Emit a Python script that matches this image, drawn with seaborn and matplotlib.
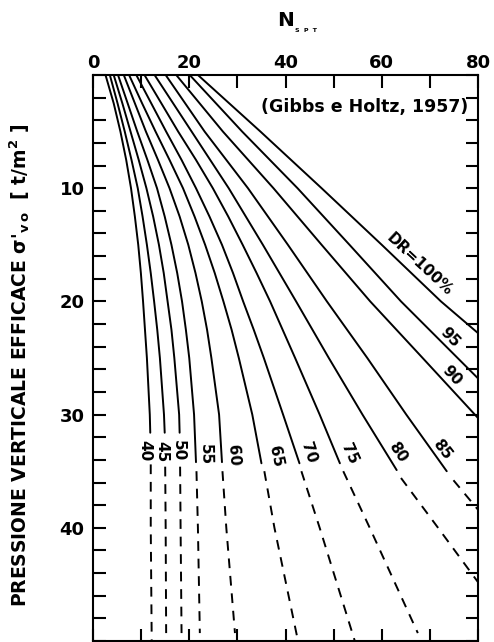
import numpy as np
import pandas as pd
import matplotlib
matplotlib.use("Agg")
import matplotlib.pyplot as plt
import seaborn as sns
from matplotlib.ticker import MultipleLocator

# ---------------- data ----------------
dr_levels = [40, 45, 50, 55, 60, 65, 70, 75, 80, 85, 90, 95, 100]

sig_40 = [0, 2.5, 5, 7.5, 10, 12.5, 15, 17.5, 20, 22.5, 25, 30, 31.6, 34.4, 40, 50]
n_40 = [2.6, 4.3, 5.7, 6.9, 7.9, 8.7, 9.4, 9.95, 10.4, 10.8, 11.2, 11.8, 11.9, 12.0, 12.0, 12.2]
sig_45 = [0, 2.5, 5, 7.5, 10, 12.5, 15, 17.5, 20, 22.5, 25, 30, 31.6, 34.6, 40, 49.3]
n_45 = [3.5, 5.1, 6.6, 8.0, 9.3, 10.3, 11.2, 12.0, 12.7, 13.35, 13.9, 14.75, 14.9, 15.0, 15.1, 15.2]
sig_50 = [0, 2.5, 5, 7.5, 10, 12.5, 15, 17.5, 20, 22.5, 25, 30, 31.6, 34.6, 40, 49.3]
n_50 = [4.3, 6.1, 7.8, 9.5, 11.1, 12.5, 13.7, 14.7, 15.5, 16.3, 16.9, 17.9, 18.0, 18.1, 18.2, 18.4]
sig_55 = [0, 2.5, 5, 7.5, 10, 12.5, 15, 17.5, 20, 22.5, 25, 30, 34.2, 35, 40, 49.3]
n_55 = [5.2, 7.2, 9.2, 11.3, 13.3, 14.9, 16.3, 17.5, 18.5, 19.3, 20.0, 21.0, 21.4, 21.5, 21.8, 22.2]
sig_60 = [0, 2.5, 5, 7.5, 10, 12.5, 15, 17.5, 20, 22.5, 25, 30, 34.2, 35, 40, 49.3]
n_60 = [6.4, 8.7, 11.0, 13.5, 15.9, 18.0, 19.8, 21.3, 22.6, 23.7, 24.6, 26.2, 26.8, 26.9, 27.7, 29.5]
sig_65 = [0, 2.5, 5, 7.5, 10, 12.5, 15, 17.5, 20, 22.5, 25, 30, 34.3, 35, 40, 50]
n_65 = [7.5, 10.2, 13.0, 15.9, 18.7, 21.1, 23.3, 25.3, 27.1, 28.8, 30.3, 33.1, 35.0, 35.6, 37.7, 42.6]
sig_70 = [0, 2.5, 5, 7.5, 10, 12.5, 15, 17.5, 20, 22.5, 25, 30, 34.3, 35, 40, 50]
n_70 = [9.0, 12.1, 15.2, 18.4, 21.4, 24.2, 26.8, 29.1, 31.2, 33.4, 35.5, 39.5, 42.9, 43.3, 47.1, 54.4]
sig_75 = [0, 2.5, 5, 7.5, 10, 12.5, 15, 17.5, 20, 22.5, 25, 30, 34.3, 35, 40, 49.3]
n_75 = [10.7, 14.2, 17.7, 21.4, 24.9, 28.1, 31.1, 34.0, 36.8, 39.4, 42.0, 47.1, 51.3, 52.0, 57.5, 67.5]
sig_80 = [0, 5, 10, 15, 20, 25, 30, 34.9, 35.6, 40, 44.8]
n_80 = [12.8, 20.5, 28.2, 35.3, 42.2, 49.0, 56.0, 63.1, 64.0, 71.7, 80.0]
sig_85 = [0, 5, 10, 15, 20, 25, 30, 35.0, 35.8, 38.4]
n_85 = [15.1, 23.2, 32.2, 40.5, 48.6, 57.0, 65.1, 73.5, 74.9, 80.0]
sig_90 = [0, 5, 10, 15, 20, 25, 30.3]
n_90 = [17.3, 27.0, 37.5, 47.5, 57.6, 68.5, 80.0]
sig_95 = [0, 5, 10, 15, 20, 26.8]
n_95 = [20.1, 31.0, 42.5, 53.3, 64.0, 80.0]
sig_100 = [0, 5, 10, 15, 20, 22.8]
n_100 = [21.8, 34.8, 47.5, 60.0, 72.3, 80.0]

# depth where the solid (measured) part ends and the dashed (extrapolated) part starts
solid_end = [31.6, 31.6, 31.6, 34.2, 34.2, 34.3, 34.3, 34.3, 34.9, 35.0, 30.3, 26.8, 22.8]
dash_start = [34.4, 34.6, 34.6, 35, 35, 35, 35, 35, 35.6, 35.8, 99, 99, 99]

curve_labels = ["40", "45", "50", "55", "60", "65", "70", "75", "80", "85", "90", "95", "DR=100%"]

x_ticks = [0, 20, 40, 60, 80]
y_ticks = [10, 20, 30, 40]

# ---------------- build long tables ----------------
sigmas = [sig_40, sig_45, sig_50, sig_55, sig_60, sig_65, sig_70, sig_75,
          sig_80, sig_85, sig_90, sig_95, sig_100]
ns = [n_40, n_45, n_50, n_55, n_60, n_65, n_70, n_75,
      n_80, n_85, n_90, n_95, n_100]

solid_rows, dash_rows = [], []
for dr, s_list, n_list, se, ds in zip(dr_levels, sigmas, ns, solid_end, dash_start):
    for s, n in zip(s_list, n_list):
        if s <= se:
            solid_rows.append((dr, s, n))
        if s >= ds:
            dash_rows.append((dr, s, n))
solid_df = pd.DataFrame(solid_rows, columns=["DR", "sigma", "N"])
dash_df = pd.DataFrame(dash_rows, columns=["DR", "sigma", "N"])

# ---------------- style ----------------
sns.set_style("ticks")
plt.rcParams["font.family"] = ["DejaVu Sans"]
plt.rcParams["font.weight"] = "bold"
plt.rcParams["mathtext.default"] = "regular"
for key in ["text.color", "axes.labelcolor", "xtick.color", "ytick.color",
            "axes.edgecolor", "xtick.labelcolor", "ytick.labelcolor"]:
    plt.rcParams[key] = "black"

fig = plt.figure(figsize=(4.94, 6.42), dpi=100)
ax = fig.add_axes([93 / 494, 1 / 642, 385 / 494, 566 / 642])

sns.lineplot(data=solid_df, x="N", y="sigma", units="DR", estimator=None,
             sort=False, color="black", linewidth=1.4, ax=ax)
sns.lineplot(data=dash_df, x="N", y="sigma", units="DR", estimator=None,
             sort=False, color="black", linewidth=1.4,
             linestyle=(0, (5, 4)), ax=ax)

ax.set_xlim(0, 80)
ax.set_ylim(50, 0)

ax.xaxis.tick_top()
ax.set_xticks(x_ticks)
ax.xaxis.set_minor_locator(MultipleLocator(10))
ax.set_yticks(y_ticks)
ax.yaxis.set_minor_locator(MultipleLocator(2))
ax.tick_params(axis="both", which="both", direction="in", length=9, width=1.5,
               top=True, bottom=True, left=True, right=True,
               labeltop=True, labelbottom=False, labelleft=True, labelright=False,
               color="black", labelcolor="black")
ax.tick_params(axis="x", which="major", pad=2, labelsize=13)
ax.tick_params(axis="y", which="major", pad=6, labelsize=13)
for lab in ax.get_xticklabels() + ax.get_yticklabels():
    lab.set_fontweight("bold")
for sp in ax.spines.values():
    sp.set_linewidth(1.5)
    sp.set_color("black")
    sp.set_visible(True)

ax.set_xlabel("")
ax.set_ylabel("PRESSIONE VERTICALE EFFICACE σ'$_{v\\,o}$  [ t/m$^{2}$ ]",
              fontsize=13.5, fontweight="bold", color="black")
ax.yaxis.set_label_coords(-0.158, 0.487)

fig.text(285.5 / 494, 1 - 20.5 / 642, "N", fontsize=14.5, fontweight="bold",
         ha="center", va="center", color="black")
fig.text(295 / 494, 1 - 31 / 642, "S  P  T", fontsize=4.5, fontweight="bold",
         ha="left", va="center", color="black")

ax.text(77.9, 2.87, "(Gibbs e Holtz, 1957)", fontsize=12.5, fontweight="bold",
        ha="right", va="center", color="black")

# curve labels: placed next to each curve
label_sigma = [33.2, 33.3, 33.2, 33.5, 33.6, 33.7, 33.4, 33.5, 33.3, 33.1, 26.6, 23.2, 16.7]
label_dx = [-4.0, -2.2, -1.1, 7.0, 8.6, 10.8, 9.0, 9.4, 9.0, 8.0, 8.6, 9.4, 13.0]
label_rot = [-90, -90, -90, -89, -86, -78, -72, -66, -56, -52, -47, -46, -43]
for lab, s_list, n_list, ls, dx, rot in zip(curve_labels, sigmas, ns,
                                            label_sigma, label_dx, label_rot):
    x_on = np.interp(ls, s_list, n_list)
    ax.annotate(lab, xy=(x_on, ls), xytext=(dx, 0), textcoords="offset points",
                ha="center", va="center", rotation=rot, rotation_mode="anchor",
                fontsize=11, fontweight="bold", color="black")

fig.savefig("out.png", dpi=100)
